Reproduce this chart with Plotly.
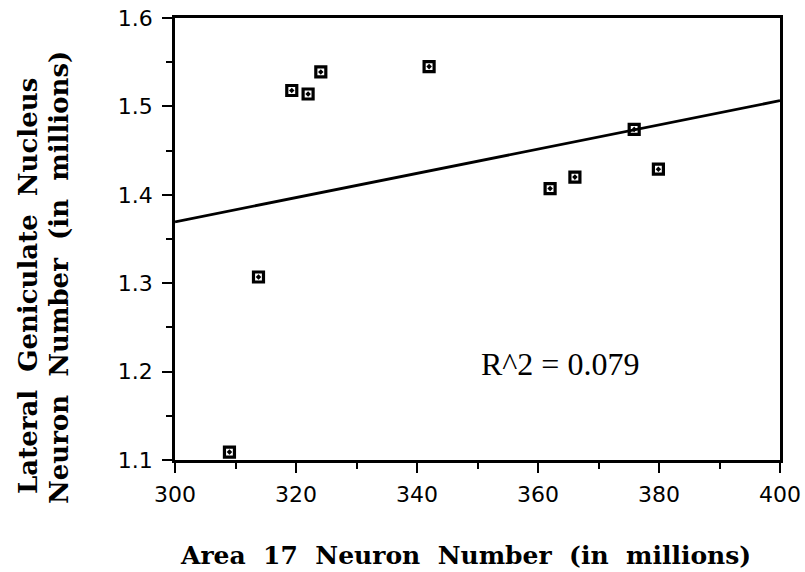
import numpy as np
import plotly.graph_objects as go

# Data
area17_neurons = [309.0, 313.8, 319.3, 322.0, 324.1, 342.0, 362.0, 366.1, 375.9, 379.9]
lgn_neurons = [1.109, 1.307, 1.518, 1.514, 1.539, 1.545, 1.407, 1.420, 1.474, 1.429]
x_range = [300, 400]
y_range = [1.1, 1.6]
r2_label = "R^2 = 0.079"

slope, intercept = np.polyfit(area17_neurons, lgn_neurons, 1)
fit_x = np.array(x_range, dtype=float)
fit_y = slope * fit_x + intercept

fig = go.Figure()
fig.add_trace(go.Scatter(
    x=fit_x, y=fit_y, mode="lines",
    line=dict(color="black", width=2.8),
    showlegend=False, hoverinfo="skip", cliponaxis=True,
))
fig.add_trace(go.Scatter(
    x=area17_neurons, y=lgn_neurons, mode="markers",
    marker=dict(symbol="square-open-dot", size=10, color="black",
                line=dict(color="black", width=3.2)),
    showlegend=False, cliponaxis=False,
))

tickfont = dict(family="DejaVu Sans", size=22, color="black")
fig.update_xaxes(
    range=x_range, dtick=20, tick0=300, showgrid=False, zeroline=False, automargin=False,
    showline=True, linecolor="black", linewidth=2.5, mirror=True,
    ticks="outside", ticklen=10, tickwidth=2.2, tickcolor="black",
    minor=dict(dtick=10, ticks="outside", ticklen=6, tickwidth=2, tickcolor="black"),
    tickfont=tickfont, ticklabelstandoff=3,
)
fig.update_yaxes(
    range=y_range, dtick=0.1, tick0=1.1, tickformat=".1f", showgrid=False, zeroline=False,
    automargin=False,
    showline=True, linecolor="black", linewidth=2.5, mirror=True,
    ticks="outside", ticklen=10, tickwidth=2.2, tickcolor="black",
    minor=dict(dtick=0.05, ticks="outside", ticklen=6, tickwidth=2, tickcolor="black"),
    tickfont=tickfont, ticklabelstandoff=5,
)

L, R, T, B = 175, 25, 18, 112
W, H = 805, 572
pw, ph = W - L - R, H - T - B

def px_to_paper_x(px):
    return (px - L) / pw

def px_to_paper_y(py):
    return (H - B - py) / ph

title_font = dict(family="DejaVu Serif", size=25, color="black", weight="bold")
ytitle_font = dict(family="DejaVu Serif", size=26, color="black", weight="bold")

fig.add_annotation(text="Area  17  Neuron  Number  (in  millions)", xref="paper", yref="paper",
                   x=px_to_paper_x(465), y=px_to_paper_y(555), xanchor="center", yanchor="middle",
                   showarrow=False, font=title_font)
fig.add_annotation(text="Lateral  Geniculate  Nucleus", xref="paper", yref="paper",
                   x=px_to_paper_x(28), y=px_to_paper_y(286), xanchor="center", yanchor="middle",
                   textangle=-90, showarrow=False, font=ytitle_font)
fig.add_annotation(text="Neuron  Number  (in  millions)", xref="paper", yref="paper",
                   x=px_to_paper_x(59), y=px_to_paper_y(278), xanchor="center", yanchor="middle",
                   textangle=-90, showarrow=False, font=ytitle_font)
fig.add_annotation(text=r2_label, xref="paper", yref="paper",
                   x=px_to_paper_x(560), y=px_to_paper_y(364), xanchor="center", yanchor="middle",
                   showarrow=False, font=dict(family="Liberation Serif", size=32, color="black"))

fig.update_layout(
    width=W, height=H, margin=dict(l=L, r=R, t=T, b=B, autoexpand=False),
    paper_bgcolor="white", plot_bgcolor="white",
)
fig.write_html("out.html", config={"displayModeBar": False},
               post_script="document.body.style.margin='0';document.body.style.overflow='hidden';")
